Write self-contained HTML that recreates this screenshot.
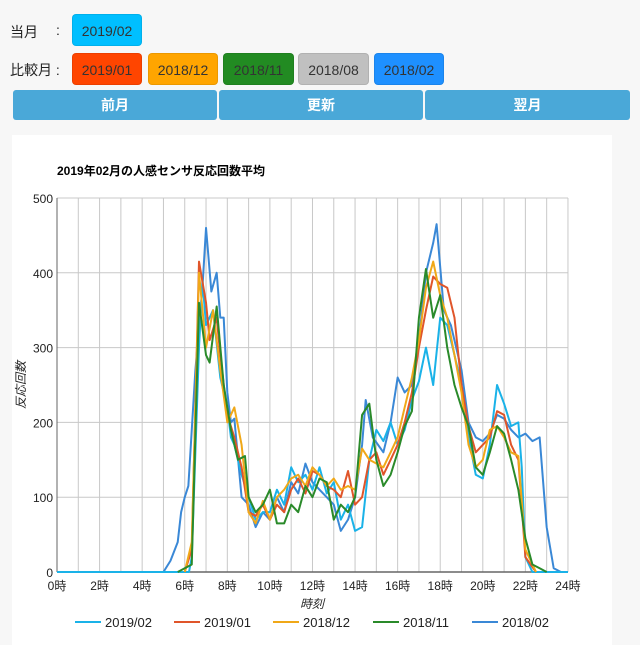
<!DOCTYPE html>
<html><head><meta charset="utf-8">
<style>
body{margin:0;width:640px;height:640px;background:#f7f7f7;font-family:"Liberation Sans","Noto Sans CJK JP",sans-serif;position:relative;overflow:hidden}
.lbl{position:absolute;font-size:14px;color:#222}
.b{position:absolute;height:32px;line-height:32px;text-align:center;font-size:14px;color:#333;border-radius:4px;border:1px solid rgba(0,0,0,0.08);box-sizing:border-box}
.nav{position:absolute;top:90px;height:30px;line-height:30px;background:#4aa8d8;color:#fff;font-weight:bold;text-align:center;font-size:14px;border-radius:3px}
.card{position:absolute;left:12px;top:135px;width:600px;height:510px;background:#fff}
</style></head><body>
<div class="lbl" style="left:10px;top:22px">当月</div>
<div class="lbl" style="left:56px;top:22px">:</div>
<div class="lbl" style="left:10px;top:60px">比較月 :</div>
<div class="b" style="left:72px;top:14px;width:70px;background:#00bfff">2019/02</div>
<div class="b" style="left:72px;top:53px;width:70px;background:#ff4500">2019/01</div>
<div class="b" style="left:148px;top:53px;width:70px;background:#ffa500">2018/12</div>
<div class="b" style="left:223px;top:53px;width:71px;background:#228b22">2018/11</div>
<div class="b" style="left:298px;top:53px;width:71px;background:#c0c0c0">2018/08</div>
<div class="b" style="left:374px;top:53px;width:70px;background:#1e90ff">2018/02</div>
<div class="nav" style="left:13px;width:204px">前月</div>
<div class="nav" style="left:219px;width:204px">更新</div>
<div class="nav" style="left:425px;width:205px">翌月</div>
<div class="card"></div>
<svg id="s" width="640" height="640" style="position:absolute;left:0;top:0" font-family="Liberation Sans, Noto Sans CJK JP, sans-serif">
<text x="57" y="175" font-size="12" font-weight="bold" fill="#000">2019年02月の人感センサ反応回数平均</text>
<g id="grid"></g><g id="lines"></g>
<text x="312" y="608" font-size="12" font-style="italic" text-anchor="middle" fill="#222">時刻</text>
<text transform="translate(25,385) rotate(-90)" font-size="12" font-style="italic" text-anchor="middle" fill="#222">反応回数</text>
</svg>
<script>
var s=document.getElementById('grid'),L=document.getElementById('lines'),NS='http://www.w3.org/2000/svg';
function X(h){return 57+h*21.29}function Y(v){return 572-v*0.748}
function el(p,a,t){var e=document.createElementNS(NS,t);for(var k in a)e.setAttribute(k,a[k]);p.appendChild(e);return e}
for(var h=0;h<=24;h++)el(s,{x1:X(h),x2:X(h),y1:198,y2:572,stroke:'#c8c8c8','stroke-width':1},'line');
for(var v=0;v<=500;v+=100){el(s,{x1:57,x2:568,y1:Y(v),y2:Y(v),stroke:'#c8c8c8','stroke-width':1},'line');
var t=el(s,{x:53,y:Y(v)+5,'font-size':12,'text-anchor':'end',fill:'#222'},'text');t.textContent=v;}
el(s,{x1:57,x2:568,y1:572,y2:572,stroke:'#666','stroke-width':1.5},'line');
el(s,{x1:57,x2:57,y1:198,y2:572,stroke:'#666','stroke-width':1},'line');
for(var h=0;h<=24;h+=2){var t=el(s,{x:X(h),y:590,'font-size':12,'text-anchor':'middle',fill:'#222'},'text');t.textContent=h+'時';}
var D={
'#3a88d6':[[0,0],[5,0],[5.33,15],[5.67,40],[5.83,80],[6,100],[6.17,115],[6.5,270],[6.83,380],[7,460],[7.25,375],[7.5,400],[7.67,340],[7.83,340],[8,240],[8.17,200],[8.33,205],[8.67,100],[9,90],[9.33,60],[9.67,80],[10,70],[10.33,100],[10.67,80],[11,120],[11.33,105],[11.67,145],[12,120],[12.33,110],[12.67,100],[13,90],[13.33,55],[13.67,70],[14,100],[14.33,170],[14.5,230],[14.83,180],[15.33,160],[15.67,200],[16,260],[16.33,240],[16.67,250],[17,310],[17.33,400],[17.67,440],[17.83,465],[18.17,350],[18.5,330],[19,270],[19.33,200],[19.67,180],[20,175],[20.33,185],[20.67,210],[21,205],[21.33,190],[21.67,180],[22,185],[22.33,175],[22.67,180],[23,60],[23.33,5],[23.67,0],[24,0]],
'#1ab2e8':[[0,0],[6.2,0],[6.33,20],[6.67,300],[6.83,390],[7,330],[7.33,350],[7.67,260],[8,220],[8.17,180],[8.33,170],[8.67,130],[9,100],[9.33,70],[9.67,80],[10,80],[10.33,110],[10.67,90],[11,140],[11.33,120],[11.67,130],[12,110],[12.33,140],[12.67,105],[13,120],[13.33,70],[13.67,90],[14,55],[14.33,60],[14.67,150],[15,190],[15.33,175],[15.67,200],[16,170],[16.33,190],[16.67,230],[17,255],[17.33,300],[17.67,250],[18,340],[18.33,330],[18.67,290],[19,250],[19.33,180],[19.67,130],[20,125],[20.33,170],[20.67,250],[21,225],[21.33,195],[21.67,200],[21.83,140],[22,20],[22.33,0],[24,0]],
'#e0552a':[[6,0],[6.33,30],[6.67,415],[7,360],[7.17,310],[7.5,340],[7.67,290],[8,210],[8.33,180],[8.67,140],[9,80],[9.33,75],[9.67,90],[10,70],[10.33,90],[10.67,80],[11,110],[11.33,125],[11.67,105],[12,135],[12.33,130],[12.67,115],[13,110],[13.33,100],[13.67,135],[14,90],[14.33,100],[14.67,150],[15,160],[15.33,130],[15.67,150],[16,170],[16.33,200],[16.67,240],[17,300],[17.33,350],[17.67,395],[18,385],[18.33,380],[18.67,340],[19,250],[19.33,195],[19.67,160],[20,170],[20.33,180],[20.67,215],[21,210],[21.33,170],[21.67,150],[22,20],[22.5,0]],
'#f0a818':[[6,0],[6.33,40],[6.67,400],[7,300],[7.33,350],[7.67,270],[8,200],[8.33,220],[8.67,170],[9,80],[9.33,65],[9.67,95],[10,70],[10.33,100],[10.67,110],[11,125],[11.33,130],[11.67,115],[12,140],[12.33,130],[12.67,115],[13,125],[13.33,110],[13.67,115],[14,110],[14.33,165],[14.67,150],[15,145],[15.33,140],[15.67,160],[16,180],[16.33,220],[16.67,260],[17,310],[17.33,380],[17.67,415],[18,370],[18.33,340],[18.67,290],[19,240],[19.33,170],[19.67,140],[20,150],[20.33,190],[20.67,195],[21,180],[21.33,160],[21.67,155],[22,30],[22.5,0]],
'#2a8a2a':[[5.67,0],[6,5],[6.33,10],[6.67,360],[7,290],[7.17,280],[7.5,355],[7.83,250],[8,220],[8.17,190],[8.5,150],[8.83,155],[9,100],[9.33,80],[9.67,90],[10,110],[10.33,65],[10.67,65],[11,90],[11.33,80],[11.67,115],[12,100],[12.33,125],[12.67,120],[13,70],[13.33,90],[13.67,80],[14,100],[14.33,210],[14.67,225],[15,150],[15.33,115],[15.67,130],[16,160],[16.33,195],[16.67,215],[17,340],[17.33,405],[17.67,340],[18,370],[18.33,300],[18.67,250],[19,220],[19.33,195],[19.67,140],[20,130],[20.33,160],[20.67,195],[21,185],[21.33,150],[21.67,110],[22,45],[22.33,10],[22.67,5],[23,0]]};
var order=['#3a88d6','#1ab2e8','#e0552a','#f0a818','#2a8a2a'];
order.forEach(function(c){el(L,{points:D[c].map(function(p){return X(p[0])+','+Y(p[1])}).join(' '),fill:'none',stroke:c,'stroke-width':2,'stroke-linejoin':'round'},'polyline')});
var leg=[['#1ab2e8','2019/02',75],['#e0552a','2019/01',174],['#f0a818','2018/12',273],['#2a8a2a','2018/11',373],['#3a88d6','2018/02',472]];
leg.forEach(function(l){el(L,{x1:l[2],x2:l[2]+26,y1:622,y2:622,stroke:l[0],'stroke-width':2},'line');
var t=el(L,{x:l[2]+30,y:627,'font-size':13,fill:'#222'},'text');t.textContent=l[1];});
</script>
</body></html>
